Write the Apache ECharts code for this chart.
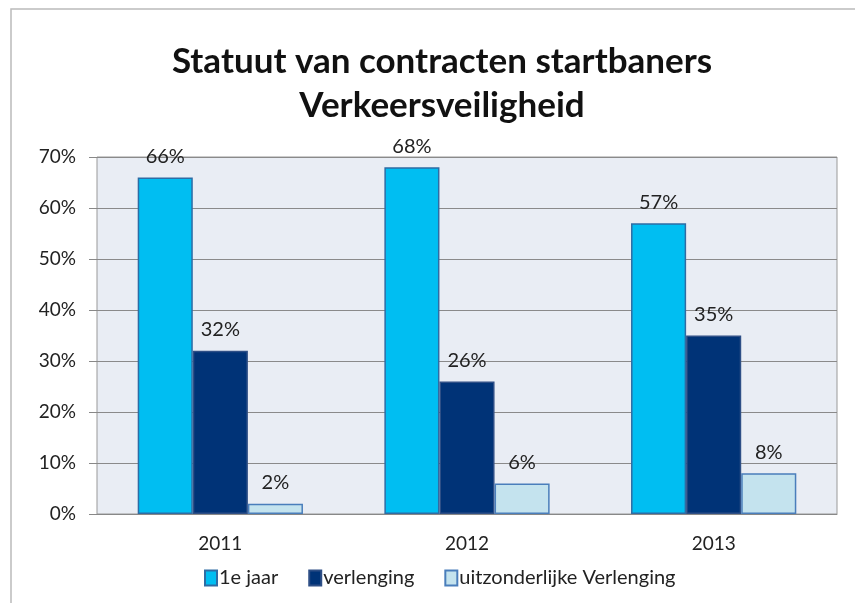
<!DOCTYPE html>
<html><head><meta charset="utf-8">
<script src="https://cdn.jsdelivr.net/npm/echarts@6/dist/echarts.min.js"></script>
<style>html,body{margin:0;padding:0;background:#fff}#c{width:855px;height:603px}</style>
</head><body><div id="c"></div>
<script>
var categories = ['2011', '2012', '2013'];
var eersteJaar = [66, 68, 57];
var verlenging = [32, 26, 35];
var uitzonderlijk = [2, 6, 8];
var yTicks = [0, 10, 20, 30, 40, 50, 60, 70];
var seriesNames = ['1e jaar', 'verlenging', 'uitzonderlijke Verlenging'];

var chart = echarts.init(document.getElementById('c'));
var font = 'Lato, "Open Sans", sans-serif';
function bar(name, data, color, border) {
  return {
    name: name, type: 'bar', data: data, barGap: '0%', barCategoryGap: '33%',
    itemStyle: { color: color, borderColor: border, borderWidth: 1.5 },
    label: { show: true, position: 'top', distance: 11, formatter: '{c}%', color: '#222', fontSize: 20, fontFamily: font }
  };
}
chart.setOption({
  animation: false,
  graphic: [{ type: 'polyline', shape: { points: [[11, 603], [11, 9], [855, 9]] }, style: { stroke: '#bbb', lineWidth: 1.5, fill: null } }],
  title: {
    text: 'Statuut van contracten startbaners\nVerkeersveiligheid',
    left: 437, top: 35, textAlign: 'center',
    textStyle: { fontSize: 35, fontWeight: 'bold', color: '#111', fontFamily: font, lineHeight: 44 }
  },
  legend: {
    data: seriesNames, bottom: 10, left: 199, itemWidth: 12, itemHeight: 15, itemGap: 30,
    icon: 'rect',
    textStyle: { fontSize: 20, color: '#222', fontFamily: font, padding: [0, 0, 0, -3] }
  },
  grid: { left: 97, right: 18, top: 157, bottom: 89, show: true, backgroundColor: '#E9EDF4', borderColor: '#999', borderWidth: 1 },
  xAxis: {
    type: 'category', data: categories,
    axisLine: { lineStyle: { color: '#888' } }, axisTick: { show: false },
    axisLabel: { fontSize: 19, color: '#222', margin: 20, fontFamily: font }
  },
  yAxis: {
    type: 'value', min: 0, max: 70, interval: 10,
    axisLine: { show: false }, axisTick: { show: true, length: 8, lineStyle: { color: '#888' } },
    splitLine: { lineStyle: { color: '#8a8a8a', width: 1 } },
    axisLabel: { fontSize: 19, color: '#222', margin: 21, fontFamily: font,
      formatter: function (v) { return yTicks.indexOf(v) >= 0 ? v + '%' : ''; } }
  },
  series: [
    bar(seriesNames[0], eersteJaar, '#00BEF2', '#2E6CA4'),
    bar(seriesNames[1], verlenging, '#003377', '#2E4F86'),
    bar(seriesNames[2], uitzonderlijk, '#C4E3EE', '#4A7EBB')
  ]
});
</script></body></html>
